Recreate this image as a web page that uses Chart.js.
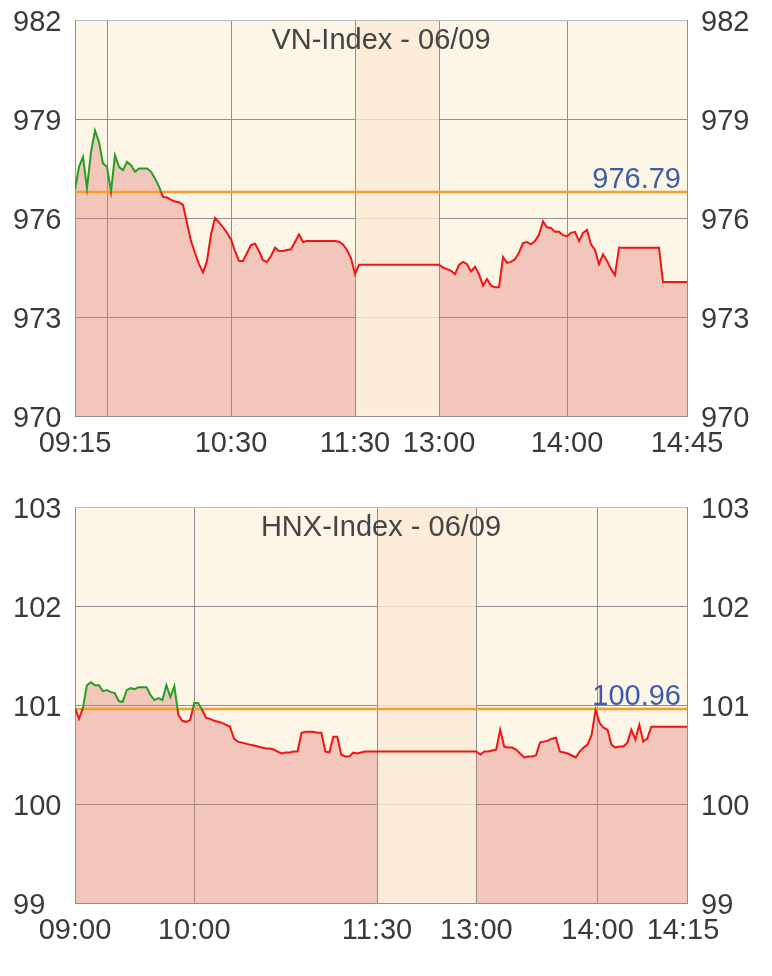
<!DOCTYPE html>
<html>
<head>
<meta charset="utf-8">
<script src="https://cdn.jsdelivr.net/npm/chart.js@4/dist/chart.umd.min.js"></script>
<style>
  html, body { margin: 0; padding: 0; background: #ffffff; }
  canvas { position: absolute; left: 0; display: block; }
</style>
</head>
<body>
<canvas id="vn" width="772" height="480" style="top:0px"></canvas>
<canvas id="hnx" width="772" height="496" style="top:480px"></canvas>
<script>
// ---------------- VN-Index ----------------
const vnTitle = 'VN-Index - 06/09';
const vnRef = 976.79;
const vnYTicks = [970, 982, 3]; // min, max, step
const vnTickPos = [0, 8, 39, 70, 91, 123, 153];
const vnTickLabels = ['09:15', '', '10:30', '11:30', '13:00', '14:00', '14:45'];
const vnLunch = [70, 91];
const vnValues = [
  976.85, 977.55, 977.85, 976.9, 978.0, 978.65, 978.3, 977.65, 977.55, 976.8,
  977.9, 977.55, 977.45, 977.7, 977.6, 977.4, 977.5, 977.5, 977.5, 977.4,
  977.2, 976.95, 976.64, 976.62, 976.55, 976.5, 976.48, 976.4, 975.85, 975.3,
  974.94, 974.6, 974.35, 974.7, 975.5, 976.0, 975.87, 975.72, 975.55, 975.35,
  975.0, 974.7, 974.7, 974.94, 975.18, 975.22, 975.0, 974.72, 974.67, 974.85,
  975.1, 975.0, 975.0, 975.03, 975.05, 975.27, 975.5, 975.27, 975.3, 975.3,
  975.3, 975.3, 975.3, 975.3, 975.3, 975.3, 975.28, 975.2, 975.03, 974.78,
  974.3,
  974.58, 974.58, 974.58, 974.58, 974.58, 974.58, 974.58, 974.58, 974.58, 974.58,
  974.58, 974.58, 974.58, 974.58, 974.58, 974.58, 974.58, 974.58, 974.58, 974.58,
  974.58, 974.5, 974.45, 974.4, 974.3, 974.58, 974.67, 974.6, 974.38, 974.52,
  974.3, 973.95, 974.15, 973.95, 973.9, 973.9, 974.82, 974.64, 974.67, 974.75,
  974.95, 975.24, 975.27, 975.2, 975.3, 975.5, 975.9, 975.72, 975.7, 975.58,
  975.58, 975.48, 975.45, 975.55, 975.58, 975.3, 975.55, 975.64, 975.2, 975.03,
  974.6, 974.9, 974.7, 974.45, 974.27, 975.1, 975.1, 975.1, 975.1, 975.1,
  975.1, 975.1, 975.1, 975.1, 975.1, 975.1, 974.06, 974.06, 974.06, 974.06,
  974.06, 974.06, 974.06
];

// ---------------- HNX-Index ----------------
const hnxTitle = 'HNX-Index - 06/09';
const hnxRef = 100.96;
const hnxYTicks = [99, 103, 1];
const hnxTickPos = [0, 30, 76, 101, 131.5, 153];
const hnxTickLabels = ['09:00', '10:00', '11:30', '13:00', '14:00', '14:15'];
const hnxLunch = [76, 101];
const hnxValues = [
  100.97, 100.86, 100.97, 101.2, 101.23, 101.2, 101.2, 101.14, 101.15, 101.13,
  101.12, 101.04, 101.03, 101.15, 101.17, 101.16, 101.18, 101.18, 101.18, 101.1,
  101.05, 101.07, 101.05, 101.2, 101.08, 101.19, 100.9, 100.84, 100.83, 100.85,
  101.02, 101.02, 100.95, 100.87, 100.86, 100.84, 100.83, 100.82, 100.8, 100.78,
  100.66, 100.63, 100.62, 100.61, 100.6, 100.59, 100.58, 100.57, 100.56, 100.56,
  100.55, 100.53, 100.51, 100.52, 100.52, 100.53, 100.53, 100.72, 100.73, 100.73,
  100.73, 100.72, 100.72, 100.53, 100.52, 100.68, 100.68, 100.5, 100.48, 100.48,
  100.52, 100.51, 100.52, 100.53, 100.53, 100.53, 100.53,
  100.53, 100.53, 100.53, 100.53, 100.53, 100.53, 100.53, 100.53, 100.53, 100.53,
  100.53, 100.53, 100.53, 100.53, 100.53, 100.53, 100.53, 100.53, 100.53, 100.53,
  100.53, 100.53, 100.53, 100.53,
  100.53, 100.5, 100.53, 100.53, 100.54, 100.55, 100.75, 100.58, 100.57, 100.57,
  100.55, 100.51, 100.47, 100.48, 100.48, 100.49, 100.62, 100.63, 100.64, 100.66,
  100.67, 100.53, 100.52, 100.51, 100.49, 100.47, 100.53, 100.57, 100.6, 100.7,
  100.95, 100.82, 100.77, 100.75, 100.6, 100.57, 100.58, 100.58, 100.62, 100.75,
  100.65, 100.8, 100.63, 100.66, 100.78, 100.78, 100.78, 100.78, 100.78, 100.78,
  100.78, 100.78, 100.78, 100.78
];

// ---------------- styling ----------------
const FONT = { family: "'Liberation Sans', Arial, Helvetica, sans-serif", size: 29 };
const TEXT_COLOR = '#3a3a3a';
const GRID_COLOR = '#8f8f8f';
const PLOT_BG = '#fdf5e6';
const LUNCH_BG = 'rgba(251,234,215,0.8)';
const FILL_COLOR = 'rgba(224,111,110,0.35)';
const UP_COLOR = '#22a022';
const DOWN_COLOR = '#f01414';
const REF_COLOR = '#f2a12a';
const REF_TEXT = '#3d5ca8';

const sessionPlugin = {
  id: 'session',
  beforeDraw(chart) {
    const { ctx, chartArea: a } = chart;
    ctx.save();
    ctx.fillStyle = PLOT_BG;
    ctx.fillRect(a.left, a.top, a.width, a.height);
    ctx.restore();
  },
  beforeDatasetsDraw(chart, args, opts) {
    const { ctx, chartArea: a, scales } = chart;
    ctx.save();
    const x0 = scales.x.getPixelForValue(opts.lunch[0]);
    const x1 = scales.x.getPixelForValue(opts.lunch[1]);
    ctx.fillStyle = LUNCH_BG;
    ctx.fillRect(x0 + 1, a.top + 1, x1 - x0 - 1.5, a.height - 1.5);
    ctx.font = FONT.size + 'px ' + FONT.family;
    ctx.fillStyle = '#444444';
    ctx.textAlign = 'center';
    ctx.textBaseline = 'middle';
    ctx.fillText(opts.title, (a.left + a.right) / 2, a.top + 21);
    ctx.restore();
  },
  beforeDatasetDraw(chart, args, opts) {
    const ds = chart.data.datasets[args.index];
    if (!ds.role) return;
    const { ctx, chartArea: a, scales } = chart;
    const y = scales.y.getPixelForValue(opts.ref);
    ctx.save();
    ctx.beginPath();
    if (ds.role === 'up') ctx.rect(a.left - 5, a.top - 10, a.width + 10, y - a.top + 10);
    else ctx.rect(a.left - 5, y, a.width + 10, a.bottom - y + 10);
    ctx.clip();
  },
  afterDatasetDraw(chart, args) {
    const ds = chart.data.datasets[args.index];
    if (!ds.role) return;
    chart.ctx.restore();
  },
  afterDatasetsDraw(chart, args, opts) {
    const { ctx, chartArea: a, scales } = chart;
    const y = scales.y.getPixelForValue(opts.ref);
    ctx.save();
    ctx.font = FONT.size + 'px ' + FONT.family;
    ctx.fillStyle = REF_TEXT;
    ctx.textAlign = 'right';
    ctx.textBaseline = 'alphabetic';
    ctx.fillText(opts.ref.toFixed(2), a.right - 6, y - 4);
    ctx.restore();
  }
};

function makeChart(id, cfg) {
  const n = cfg.values.length;
  const pts = cfg.values.map((v, i) => ({ x: i, y: v }));
  const fillPts = cfg.values.map((v, i) => ({ x: i, y: (i > cfg.lunch[0] && i < cfg.lunch[1]) ? null : v }));
  const yCommon = { type: 'linear', min: cfg.yTicks[0], max: cfg.yTicks[1] };
  const lastTick = cfg.tickPos.length - 1;
  return new Chart(document.getElementById(id), {
    type: 'line',
    data: {
      datasets: [
        { data: fillPts, fill: 'start', backgroundColor: FILL_COLOR, borderWidth: 0, pointRadius: 0, spanGaps: false, order: 4 },
        { data: [{ x: 0, y: cfg.ref }, { x: n - 1, y: cfg.ref }], borderColor: REF_COLOR, borderWidth: 2.5, pointRadius: 0, fill: false, order: 3 },
        { data: pts, role: 'down', borderColor: DOWN_COLOR, borderWidth: 2, pointRadius: 0, fill: false, order: 2 },
        { data: pts, role: 'up', borderColor: UP_COLOR, borderWidth: 2, pointRadius: 0, fill: false, order: 1 }
      ]
    },
    options: {
      responsive: false,
      devicePixelRatio: 1,
      animation: false,
      events: [],
      layout: { autoPadding: false, padding: { top: cfg.padTop, left: 13, right: 0, bottom: 0 } },
      elements: { line: { tension: 0 } },
      plugins: {
        legend: { display: false },
        tooltip: { enabled: false },
        session: { title: cfg.title, ref: cfg.ref, lunch: cfg.lunch }
      },
      scales: {
        x: {
          type: 'linear', min: 0, max: n - 1,
          afterBuildTicks: s => { s.ticks = cfg.tickPos.map(v => ({ value: v })); },
          afterFit: s => { s.height = cfg.xHeight; s.paddingLeft = 0; s.paddingRight = 0; },
          ticks: {
            autoSkip: false, maxRotation: 0, minRotation: 0, padding: 11,
            font: FONT, color: TEXT_COLOR,
            callback: (v, i) => cfg.tickLabels[i]
          },
          grid: {
            color: c => (c.index === 0 || c.index === lastTick) ? 'rgba(0,0,0,0)' : GRID_COLOR,
            drawTicks: false, lineWidth: 1
          },
          border: { color: GRID_COLOR }
        },
        y: Object.assign({}, yCommon, {
          position: 'left',
          afterFit: s => { s.width = 62; s.paddingTop = 0; s.paddingBottom = 0; },
          ticks: { stepSize: cfg.yTicks[2], crossAlign: 'far', padding: 0, labelOffset: 3, font: FONT, color: TEXT_COLOR },
          grid: { color: c => c.index === cfg.yTickCount ? '#bdbdbd' : GRID_COLOR, drawTicks: false, lineWidth: 1 },
          border: { color: GRID_COLOR }
        }),
        y2: Object.assign({}, yCommon, {
          position: 'right',
          afterFit: s => { s.width = 85; s.paddingTop = 0; s.paddingBottom = 0; },
          ticks: { stepSize: cfg.yTicks[2], padding: 14, labelOffset: 3, font: FONT, color: TEXT_COLOR },
          grid: { drawOnChartArea: false, drawTicks: false },
          border: { color: GRID_COLOR }
        })
      }
    },
    plugins: [sessionPlugin]
  });
}

makeChart('vn', {
  title: vnTitle, ref: vnRef, values: vnValues, lunch: vnLunch,
  tickPos: vnTickPos, tickLabels: vnTickLabels, yTicks: vnYTicks, yTickCount: 4,
  padTop: 20, xHeight: 64
});
makeChart('hnx', {
  title: hnxTitle, ref: hnxRef, values: hnxValues, lunch: hnxLunch,
  tickPos: hnxTickPos, tickLabels: hnxTickLabels, yTicks: hnxYTicks, yTickCount: 4,
  padTop: 27, xHeight: 73
});
</script>
</body>
</html>
